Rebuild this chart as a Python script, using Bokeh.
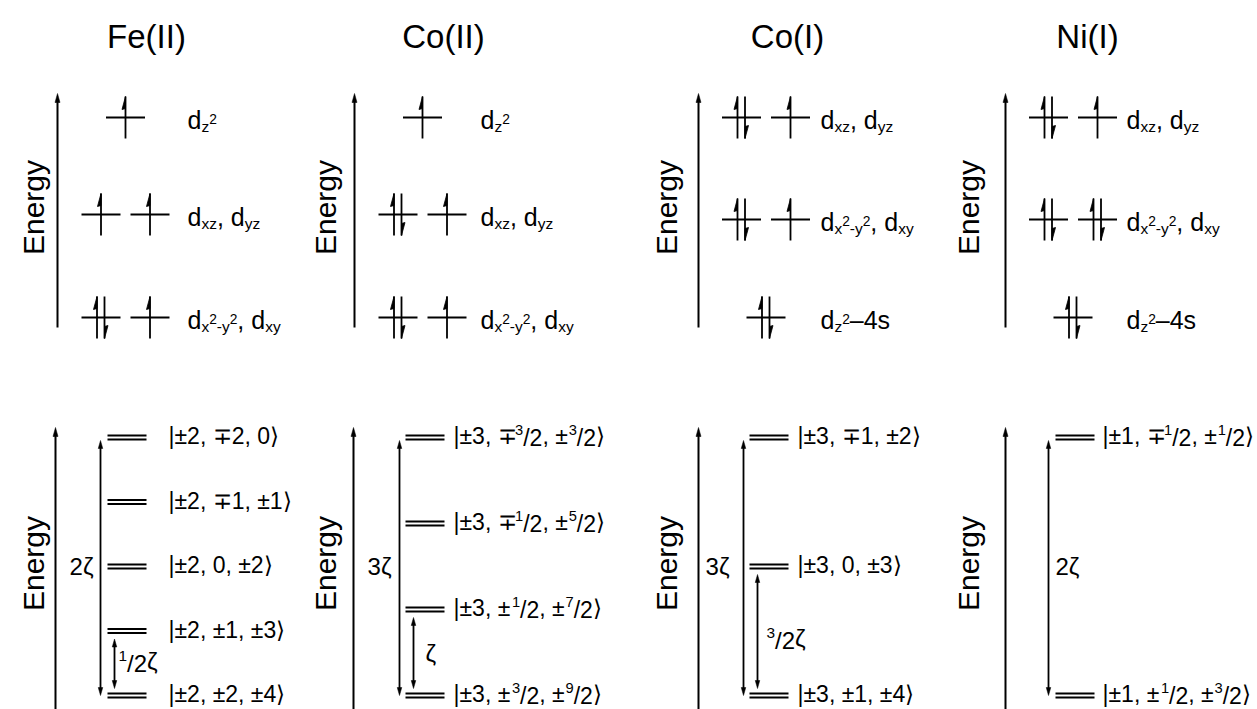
import re
import math
from bokeh.plotting import figure
from bokeh.models import Range1d
from bokeh.layouts import column, row
from bokeh.core.properties import value
from bokeh.embed import file_html
from bokeh.resources import INLINE

FONT = "Liberation Sans"

IONS = ["Fe(II)", "Co(II)", "Co(I)", "Ni(I)"]

# ---- crystal-field d-orbital levels (arbitrary energy units), lowest first ----
# occupancy: electrons per orbital within each (degenerate) level
FE2_ORB_LABELS = ["d_{x}^{2}_{-y}^{2}, d_{xy}", "d_{xz}, d_{yz}", "d_{z}^{2}"]
FE2_ORB_ENERGY = [0.0, 1.03, 2.0]
FE2_ORB_OCC = [[2, 1], [1, 1], [1]]

CO2_ORB_LABELS = ["d_{x}^{2}_{-y}^{2}, d_{xy}", "d_{xz}, d_{yz}", "d_{z}^{2}"]
CO2_ORB_ENERGY = [0.0, 1.03, 2.0]
CO2_ORB_OCC = [[2, 1], [2, 1], [1]]

CO1_ORB_LABELS = ["d_{z}^{2}–4s", "d_{x}^{2}_{-y}^{2}, d_{xy}", "d_{xz}, d_{yz}"]
CO1_ORB_ENERGY = [0.0, 0.98, 2.0]
CO1_ORB_OCC = [[2], [2, 1], [2, 1]]

NI1_ORB_LABELS = ["d_{z}^{2}–4s", "d_{x}^{2}_{-y}^{2}, d_{xy}", "d_{xz}, d_{yz}"]
NI1_ORB_ENERGY = [0.0, 0.98, 2.0]
NI1_ORB_OCC = [[2], [2, 2], [2, 1]]

# ---- spin-orbit coupled states (energies in units of zeta), lowest first ----
FE2_STATES = ["|±2, ±2, ±4⟩", "|±2, ±1, ±3⟩", "|±2, 0, ±2⟩", "|±2, ∓1, ±1⟩", "|±2, ∓2, 0⟩"]
FE2_STATE_ENERGY = [0.0, 0.5, 1.0, 1.5, 2.0]
FE2_GAP_TOTAL = "2ζ"
FE2_GAP_FIRST = "[1/2]ζ"

CO2_STATES = ["|±3, ±[3/2], ±[9/2]⟩", "|±3, ±[1/2], ±[7/2]⟩",
              "|±3, ∓[1/2], ±[5/2]⟩", "|±3, ∓[3/2], ±[3/2]⟩"]
CO2_STATE_ENERGY = [0.0, 1.0, 2.0, 3.0]
CO2_GAP_TOTAL = "3ζ"
CO2_GAP_FIRST = "ζ"

CO1_STATES = ["|±3, ±1, ±4⟩", "|±3, 0, ±3⟩", "|±3, ∓1, ±2⟩"]
CO1_STATE_ENERGY = [0.0, 1.5, 3.0]
CO1_GAP_TOTAL = "3ζ"
CO1_GAP_FIRST = "[3/2]ζ"

NI1_STATES = ["|±1, ±[1/2], ±[3/2]⟩", "|±1, ∓[1/2], ±[1/2]⟩"]
NI1_STATE_ENERGY = [0.0, 2.0]
NI1_GAP_TOTAL = "2ζ"
NI1_GAP_FIRST = None

ORBITALS = [
    (FE2_ORB_LABELS, FE2_ORB_ENERGY, FE2_ORB_OCC),
    (CO2_ORB_LABELS, CO2_ORB_ENERGY, CO2_ORB_OCC),
    (CO1_ORB_LABELS, CO1_ORB_ENERGY, CO1_ORB_OCC),
    (NI1_ORB_LABELS, NI1_ORB_ENERGY, NI1_ORB_OCC),
]
STATES = [
    (FE2_STATES, FE2_STATE_ENERGY, FE2_GAP_TOTAL, FE2_GAP_FIRST),
    (CO2_STATES, CO2_STATE_ENERGY, CO2_GAP_TOTAL, CO2_GAP_FIRST),
    (CO1_STATES, CO1_STATE_ENERGY, CO1_GAP_TOTAL, CO1_GAP_FIRST),
    (NI1_STATES, NI1_STATE_ENERGY, NI1_GAP_TOTAL, NI1_GAP_FIRST),
]

# ---- page geometry (pixels) ----
PAGE_W, TITLE_H, TOP_H, BOT_H = 1257, 70, 300, 339
COLUMNS = [
    dict(left=0, width=300, title_x=146, energy_x=33, ax_top=57, ax_bot=55,
         orb_cx=125, orb_lab_x=187, lvl_x=(107, 146), ket_x=168,
         big_x=100, big_lab=("right", 93), small_x=114, small_lab=(118, 670)),
    dict(left=300, width=340, title_x=443, energy_x=325, ax_top=354, ax_bot=353,
         orb_cx=422, orb_lab_x=480, lvl_x=(405, 444), ket_x=453,
         big_x=399, big_lab=("right", 391), small_x=413, small_lab=(425, 662)),
    dict(left=640, width=300, title_x=787, energy_x=666, ax_top=698, ax_bot=698,
         orb_cx=765.5, orb_lab_x=820, lvl_x=(749, 788), ket_x=797,
         big_x=743, big_lab=("right", 729), small_x=757, small_lab=(766, 647)),
    dict(left=940, width=317, title_x=1087, energy_x=968, ax_top=1005, ax_bot=1005,
         orb_cx=1072.5, orb_lab_x=1126, lvl_x=(1055, 1094), ket_x=1102,
         big_x=1048, big_lab=("left", 1055), small_x=None, small_lab=None),
]
ORB_PITCH = 49
ORB_HALF = 19.5
MID_K = 0.36   # distance from baseline up to the text "middle", in em

# ---- simple rich-text layout (sub/superscripts as separate text pieces) ----
CHAR_W = {' ': 278, ',': 278, '-': 333, '–': 556, '/': 278, '|': 260, '±': 584,
          '∓': 720, '⟩': 390, 'ζ': 450, 's': 500, 'x': 500, 'y': 500, 'z': 500}
STYLE = {'n': (1.0, 0.0), 's': (0.62, 3.5), 'p': (0.55, -4.5),
         'f': (0.64, -9.0), 'd': (1.0, 1.5)}
TOKEN = re.compile(r"_\{([^}]*)\}|\^\{([^}]*)\}|\[([^/\]]+)/([^\]]+)\]|([^_^\[]+)")


def text_width(s, size):
    return sum(CHAR_W.get(c, 556) for c in s) * size / 1000.0


def parse_rich(s):
    parts = []
    for sub, sup, num, den, plain in TOKEN.findall(s):
        if sub:
            parts.append((sub, 's'))
        elif sup:
            parts.append((sup, 'p'))
        elif num:
            parts += [(num, 'f'), ('/' + den, 'd')]
        else:
            parts.append((plain, 'n'))
    return parts


def new_buf():
    return dict(x=[], y=[], text=[], size=[])


def put_rich(buf, s, x, baseline, size, scale):
    """Lay out a label piece by piece; baseline in data units, offsets in pixels."""
    cx = x
    for txt, st in parse_rich(s):
        k, off = STYLE[st]
        fs = size * k
        buf['x'].append(cx)
        buf['y'].append(baseline + (MID_K * fs - off) / scale)
        buf['text'].append(txt)
        buf['size'].append("%.1fpx" % fs)
        cx += text_width(txt, fs)


def make_panel(left, width, top_px, height, base_px, scale):
    # data value v is drawn at global pixel row base_px - v * scale
    p = figure(width=width, height=height,
               x_range=Range1d(left, left + width),
               y_range=Range1d((base_px - top_px - height) / scale, (base_px - top_px) / scale),
               output_backend="svg", toolbar_location=None, min_border=0,
               x_axis_location=None, y_axis_location=None,
               outline_line_color=None, background_fill_color="white",
               border_fill_color="white")
    p.xgrid.visible = False
    p.ygrid.visible = False
    return p


def head(xs, ys, x, tip, direction, scale, w=5.0, l=8.0):
    base = tip - direction * l / scale
    xs.append([x - w / 2, x + w / 2, x])
    ys.append([base, base, tip])


def draw_rich_buf(p, buf):
    p.text(x=buf['x'], y=buf['y'], text=buf['text'], text_font_size=buf['size'],
           text_font=value(FONT), text_color="black",
           text_align="left", text_baseline="middle")


def energy_label(p, x, y):
    p.text(x=[x], y=[y], text=["Energy"], angle=math.pi / 2,
           text_font=value(FONT), text_font_size="30px", text_color="black",
           text_align="center", text_baseline="middle")


# ---- title strip ----
TITLE_SIZE = 33
TITLE_BASELINE = 48
title_fig = figure(width=PAGE_W, height=TITLE_H, x_range=Range1d(0, PAGE_W),
                   y_range=Range1d(TITLE_H, 0), output_backend="svg",
                   toolbar_location=None, min_border=0, x_axis_location=None,
                   y_axis_location=None, outline_line_color=None)
title_fig.xgrid.visible = False
title_fig.ygrid.visible = False
title_fig.text(x=[c['title_x'] for c in COLUMNS],
               y=[TITLE_BASELINE - MID_K * TITLE_SIZE] * 4, text=IONS,
               text_font=value(FONT), text_font_size="%dpx" % TITLE_SIZE,
               text_color="black", text_align="center", text_baseline="middle")

# ---- upper row: d-orbital occupation ----
TOP_Y0 = TITLE_H
TOP_BASE, TOP_SCALE = 317.0, 100.0
top_figs = []
for cfg, (labels, energy, occ) in zip(COLUMNS, ORBITALS):
    s = TOP_SCALE
    p = make_panel(cfg['left'], cfg['width'], TOP_Y0, TOP_H, TOP_BASE, s)
    lvl = dict(x0=[], y0=[], x1=[], y1=[])
    el = dict(x0=[], y0=[], x1=[], y1=[])
    hx, hy = [], []
    buf = new_buf()
    for lab, e, orbs in zip(labels, energy, occ):
        n = len(orbs)
        for i, ne in enumerate(orbs):
            c = cfg['orb_cx'] + (i - (n - 1) / 2.0) * ORB_PITCH
            lvl['x0'].append(c - ORB_HALF); lvl['x1'].append(c + ORB_HALF)
            lvl['y0'].append(e); lvl['y1'].append(e)
            top, bot = e + 21 / s, e - 21 / s
            spins = [(c - 4, 1), (c + 3.5, -1)] if ne == 2 else [(c, 1)]
            for x, sp in spins:
                el['x0'].append(x); el['x1'].append(x)
                el['y0'].append(bot); el['y1'].append(top)
                if sp > 0:
                    hx.append([x, x - 3.5, x]); hy.append([top, top - 13 / s, top - 12 / s])
                else:
                    hx.append([x, x + 3.5, x]); hy.append([bot, bot + 13 / s, bot + 12 / s])
        put_rich(buf, lab, cfg['orb_lab_x'], e - 11 / s, 25, s)
    p.segment(**lvl, line_color="black", line_width=2.2)
    p.segment(**el, line_color="black", line_width=1.8)
    p.patches(xs=hx, ys=hy, fill_color="black", line_color="black", line_width=0.8)
    # energy axis
    ax = cfg['ax_top']
    y_lo, y_hi = (TOP_BASE - 327) / s, (TOP_BASE - 93) / s
    p.segment(x0=[ax], y0=[y_lo], x1=[ax], y1=[y_hi - 6 / s], line_color="black", line_width=2)
    axx, axy = [], []
    head(axx, axy, ax, y_hi, 1, s, w=5, l=9)
    p.patches(xs=axx, ys=axy, fill_color="black", line_color="black", line_width=0.5)
    energy_label(p, cfg['energy_x'], (TOP_BASE - 207) / s)
    draw_rich_buf(p, buf)
    top_figs.append(p)

# ---- lower row: spin-orbit states ----
BOT_Y0 = TITLE_H + TOP_H
BOT_BASE, BOT_SPAN = 695.0, 258.0
bot_figs = []
for cfg, (states, energy, gap_total, gap_first) in zip(COLUMNS, STATES):
    emax = max(energy)
    s = BOT_SPAN / emax
    p = make_panel(cfg['left'], cfg['width'], BOT_Y0, BOT_H, BOT_BASE, s)
    lvl = dict(x0=[], y0=[], x1=[], y1=[])
    buf = new_buf()
    x0, x1 = cfg['lvl_x']
    for lab, e in zip(states, energy):
        for d in (-2.0, 2.0):
            lvl['x0'].append(x0); lvl['x1'].append(x1)
            lvl['y0'].append(e + d / s); lvl['y1'].append(e + d / s)
        put_rich(buf, lab, cfg['ket_x'], e - 7 / s, 23, s)
    p.segment(**lvl, line_color="black", line_width=2.0)

    hx, hy = [], []
    # energy axis
    ax = cfg['ax_bot']
    y_lo, y_hi = (BOT_BASE - 720) / s, (BOT_BASE - 427) / s
    p.segment(x0=[ax], y0=[y_lo], x1=[ax], y1=[y_hi - 6 / s], line_color="black", line_width=2)
    head(hx, hy, ax, y_hi, 1, s, w=5, l=9)
    energy_label(p, cfg['energy_x'], (BOT_BASE - 563) / s)

    # total spin-orbit spread
    bx = cfg['big_x']
    b_top, b_bot = emax - 3 / s, 0.0
    p.segment(x0=[bx], y0=[b_bot + 5 / s], x1=[bx], y1=[b_top - 5 / s], line_color="black", line_width=1.8)
    head(hx, hy, bx, b_top, 1, s, w=4.5, l=8)
    head(hx, hy, bx, b_bot, -1, s, w=4.5, l=8)
    align, lx = cfg['big_lab']
    p.text(x=[lx], y=[emax / 2], text=[gap_total], text_font=value(FONT),
           text_font_size="24px", text_color="black", text_align=align,
           text_baseline="middle")

    # gap to the first excited state
    if gap_first:
        sx = cfg['small_x']
        e1 = energy[1]
        s_top, s_bot = e1 - 8 / s, 7 / s
        p.segment(x0=[sx], y0=[s_bot + 5 / s], x1=[sx], y1=[s_top - 5 / s], line_color="black", line_width=1.8)
        head(hx, hy, sx, s_top, 1, s, w=4.5, l=8)
        head(hx, hy, sx, s_bot, -1, s, w=4.5, l=8)
        gx, gy = cfg['small_lab']
        put_rich(buf, gap_first, gx, (BOT_BASE - gy) / s, 24, s)

    p.patches(xs=hx, ys=hy, fill_color="black", line_color="black", line_width=0.5)
    draw_rich_buf(p, buf)
    bot_figs.append(p)

layout = column(title_fig, row(*top_figs), row(*bot_figs))
open("out.html", "w").write(file_html(layout, INLINE))
